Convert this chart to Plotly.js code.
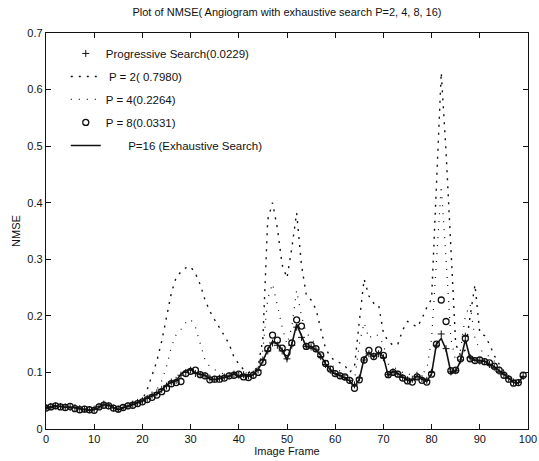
<!DOCTYPE html>
<html>
<head>
<meta charset="utf-8">
<script src="https://cdn.plot.ly/plotly-3.0.1.min.js"></script>
<style>html,body{margin:0;padding:0;background:#fff;}#chart{width:539px;height:461px;}</style>
</head>
<body>
<div id="chart"></div>
<script>
// Frames 0..99
const frames = Array.from({length: 100}, (_, i) => i);

const progressive = [
  0.038, 0.040, 0.041, 0.040, 0.039, 0.038, 0.038, 0.036, 0.035, 0.034,
  0.035, 0.040, 0.044, 0.041, 0.037, 0.035, 0.038, 0.041, 0.044, 0.047,
  0.050, 0.054, 0.060, 0.064, 0.070, 0.076, 0.083, 0.086, 0.095, 0.100,
  0.104, 0.098, 0.096, 0.094, 0.090, 0.088, 0.090, 0.092, 0.094, 0.097,
  0.095, 0.096, 0.094, 0.097, 0.104, 0.122, 0.138, 0.152, 0.148, 0.138,
  0.124, 0.148, 0.180, 0.162, 0.146, 0.145, 0.141, 0.128, 0.114, 0.104,
  0.098, 0.094, 0.091, 0.086, 0.078, 0.090, 0.122, 0.133, 0.129, 0.133,
  0.126, 0.096, 0.101, 0.097, 0.091, 0.087, 0.088, 0.093, 0.089, 0.086,
  0.100, 0.148, 0.168, 0.142, 0.101, 0.103, 0.122, 0.164, 0.126, 0.121,
  0.120, 0.119, 0.114, 0.109, 0.102, 0.096, 0.089, 0.083, 0.082, 0.093
];

const p2 = [
  0.039, 0.041, 0.042, 0.041, 0.040, 0.040, 0.038, 0.036, 0.036, 0.035,
  0.036, 0.039, 0.044, 0.043, 0.040, 0.036, 0.038, 0.042, 0.045, 0.048,
  0.052, 0.070, 0.095, 0.120, 0.155, 0.195, 0.240, 0.268, 0.278, 0.285,
  0.287, 0.275, 0.255, 0.228, 0.208, 0.193, 0.180, 0.165, 0.150, 0.127,
  0.115, 0.105, 0.100, 0.102, 0.110, 0.160, 0.370, 0.400, 0.355, 0.290,
  0.267, 0.320, 0.382, 0.290, 0.237, 0.228, 0.212, 0.175, 0.142, 0.128,
  0.120, 0.117, 0.112, 0.100, 0.110, 0.190, 0.265, 0.235, 0.222, 0.220,
  0.170, 0.155, 0.148, 0.150, 0.175, 0.190, 0.185, 0.180, 0.195, 0.215,
  0.230, 0.430, 0.630, 0.490, 0.330, 0.150, 0.130, 0.140, 0.200, 0.255,
  0.170, 0.165, 0.150, 0.130, 0.115, 0.102, 0.093, 0.087, 0.085, 0.096
];

const p4 = [
  0.038, 0.040, 0.041, 0.041, 0.039, 0.039, 0.037, 0.036, 0.035, 0.034,
  0.035, 0.039, 0.043, 0.042, 0.039, 0.035, 0.038, 0.041, 0.044, 0.047,
  0.050, 0.055, 0.060, 0.070, 0.085, 0.110, 0.145, 0.167, 0.176, 0.188,
  0.194, 0.180, 0.152, 0.122, 0.110, 0.105, 0.100, 0.097, 0.098, 0.100,
  0.100, 0.100, 0.098, 0.100, 0.105, 0.140, 0.230, 0.257, 0.220, 0.180,
  0.150, 0.180, 0.245, 0.200, 0.170, 0.160, 0.150, 0.140, 0.125, 0.115,
  0.108, 0.102, 0.097, 0.090, 0.085, 0.150, 0.188, 0.160, 0.168, 0.165,
  0.150, 0.115, 0.110, 0.105, 0.100, 0.095, 0.100, 0.100, 0.098, 0.105,
  0.160, 0.300, 0.430, 0.300, 0.160, 0.120, 0.140, 0.200, 0.220, 0.160,
  0.140, 0.135, 0.128, 0.120, 0.110, 0.100, 0.094, 0.088, 0.086, 0.096
];

const p8 = [
  0.037, 0.039, 0.041, 0.039, 0.038, 0.040, 0.036, 0.034, 0.035, 0.034,
  0.033, 0.039, 0.042, 0.041, 0.037, 0.035, 0.038, 0.041, 0.042, 0.045,
  0.048, 0.052, 0.056, 0.060, 0.066, 0.072, 0.080, 0.082, 0.084, 0.098,
  0.102, 0.104, 0.096, 0.094, 0.087, 0.088, 0.088, 0.090, 0.094, 0.095,
  0.097, 0.092, 0.091, 0.095, 0.100, 0.118, 0.142, 0.166, 0.157, 0.143,
  0.135, 0.152, 0.193, 0.182, 0.146, 0.148, 0.142, 0.131, 0.116, 0.106,
  0.098, 0.094, 0.092, 0.086, 0.072, 0.087, 0.122, 0.139, 0.128, 0.140,
  0.130, 0.096, 0.100, 0.097, 0.090, 0.085, 0.083, 0.092, 0.086, 0.083,
  0.097, 0.150, 0.228, 0.190, 0.103, 0.104, 0.124, 0.160, 0.124, 0.121,
  0.122, 0.119, 0.117, 0.111, 0.104, 0.095, 0.088, 0.081, 0.082, 0.095
];

const p16 = [
  0.036, 0.038, 0.040, 0.040, 0.038, 0.039, 0.037, 0.035, 0.034, 0.033,
  0.034, 0.038, 0.043, 0.042, 0.038, 0.034, 0.037, 0.040, 0.043, 0.046,
  0.049, 0.055, 0.058, 0.062, 0.068, 0.078, 0.082, 0.085, 0.097, 0.103,
  0.106, 0.099, 0.097, 0.095, 0.088, 0.087, 0.089, 0.091, 0.093, 0.098,
  0.093, 0.094, 0.093, 0.096, 0.105, 0.120, 0.140, 0.155, 0.150, 0.140,
  0.122, 0.150, 0.185, 0.165, 0.145, 0.146, 0.140, 0.130, 0.115, 0.105,
  0.097, 0.095, 0.090, 0.085, 0.075, 0.088, 0.125, 0.135, 0.127, 0.135,
  0.128, 0.094, 0.102, 0.098, 0.092, 0.086, 0.086, 0.094, 0.088, 0.084,
  0.098, 0.150, 0.160, 0.140, 0.100, 0.102, 0.120, 0.158, 0.125, 0.122,
  0.121, 0.120, 0.115, 0.110, 0.103, 0.097, 0.090, 0.082, 0.081, 0.094
];

const seriesNames = [
  'Progressive Search(0.0229)',
  '\u00a0P = 2( 0.7980)',
  'P = 4(0.2264)',
  'P = 8(0.0331)',
  '\u00a0\u00a0\u00a0\u00a0\u00a0\u00a0\u00a0P=16 (Exhaustive Search)'
];

const xTicks = [0, 10, 20, 30, 40, 50, 60, 70, 80, 90, 100];
const yTicks = [0, 0.1, 0.2, 0.3, 0.4, 0.5, 0.6, 0.7];
const yTickText = ['0', '0.1', '0.2', '0.3', '0.4', '0.5', '0.6', '0.7'];

const ink = '#111111';
const fontFam = 'Liberation Sans, Arial, sans-serif';

const traces = [
  {x: frames, y: progressive, name: seriesNames[0], mode: 'markers', legendgroup: 'a',
   marker: {symbol: 'cross-thin-open', size: 5, color: ink, line: {color: ink, width: 1}}},
  {x: frames, y: p2, name: seriesNames[1], mode: 'lines', legendgroup: 'b',
   line: {color: ink, width: 1.4, dash: '2px,6px'}},
  {x: frames, y: p4, name: seriesNames[2], mode: 'lines', legendgroup: 'c',
   line: {color: ink, width: 1.2, dash: '1px,7px'}},
  {x: frames, y: p8, name: seriesNames[3], mode: 'markers', legendgroup: 'd',
   marker: {symbol: 'circle-open', size: 6, color: ink, line: {color: ink, width: 1.3}}},
  {x: frames, y: p16, name: seriesNames[4], mode: 'lines', legendgroup: 'e',
   line: {color: ink, width: 1.6}}
];

const layout = {
  width: 539, height: 461,
  margin: {l: 46, r: 11, t: 33, b: 32},
  paper_bgcolor: '#ffffff', plot_bgcolor: '#ffffff',
  font: {family: fontFam, size: 11, color: ink},
  title: {text: 'Plot of NMSE( Angiogram with exhaustive search P=2, 4, 8, 16)',
          font: {family: fontFam, size: 11, color: ink},
          xref: 'paper', x: 0.5, xanchor: 'center',
          yref: 'container', y: 0.974, yanchor: 'middle'},
  showlegend: true,
  legend: {x: 0.041, y: 0.985, xanchor: 'left', yanchor: 'top',
           bgcolor: 'rgba(0,0,0,0)', borderwidth: 0,
           font: {family: fontFam, size: 11.5, color: ink},
           tracegroupgap: 4},
  xaxis: {range: [0, 100], tickvals: xTicks, ticktext: xTicks.map(String),
          ticks: 'inside', ticklen: 5, tickwidth: 1, tickcolor: ink,
          showline: true, linecolor: ink, linewidth: 1.2, mirror: 'ticks',
          showgrid: false, zeroline: false, automargin: false,
          tickfont: {family: fontFam, size: 11, color: ink},
          title: {text: 'Image Frame', standoff: 2, font: {family: fontFam, size: 11, color: ink}}},
  yaxis: {range: [0, 0.7], tickvals: yTicks, ticktext: yTickText,
          ticks: 'inside', ticklen: 5, tickwidth: 1, tickcolor: ink,
          showline: true, linecolor: ink, linewidth: 1.2, mirror: 'ticks',
          showgrid: false, zeroline: false, automargin: false,
          tickfont: {family: fontFam, size: 11, color: ink},
          title: {text: 'NMSE', standoff: 4, font: {family: fontFam, size: 11, color: ink}}}
};

Plotly.newPlot('chart', traces, layout, {staticPlot: true, displayModeBar: false});
</script>
</body>
</html>
